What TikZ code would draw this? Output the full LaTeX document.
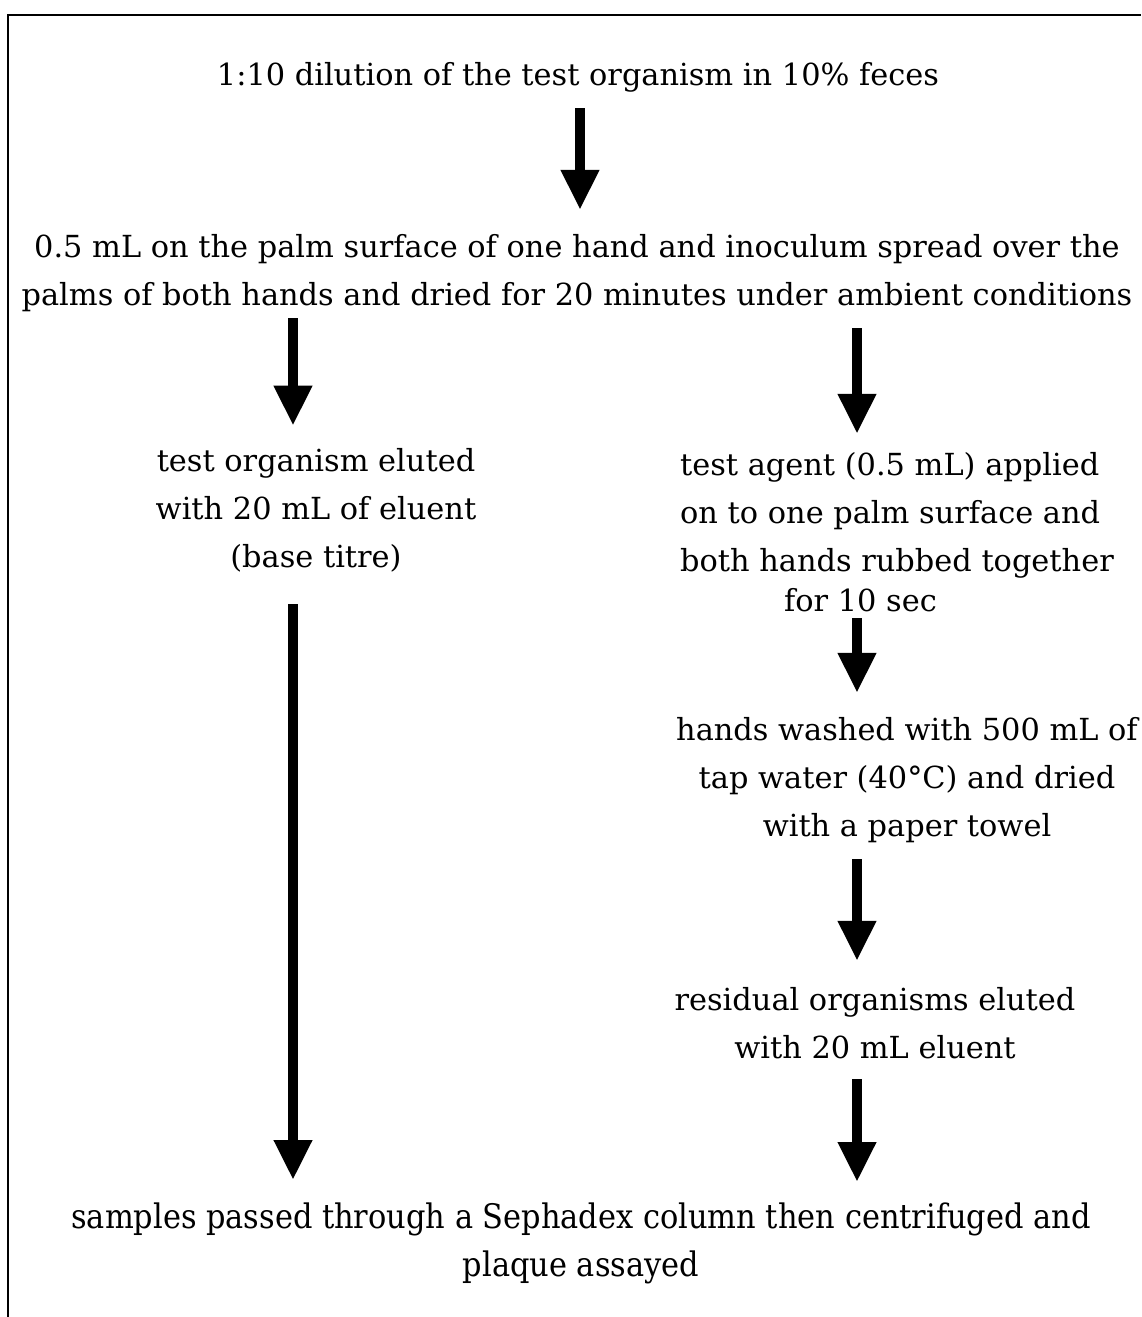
\documentclass[tikz,border=0pt]{standalone}
\usepackage{fontspec}
\setmainfont{DejaVu Serif}
\newfontfamily\condfont{DejaVu Serif Condensed}
\usetikzlibrary{arrows.meta}
\tikzset{
  steptext/.style={inner sep=0pt, align=center, font=\fontsize{15.2}{24}\selectfont},
  bigarrow/.style={line width=5pt, -{Triangle[width=18pt,length=20pt]}}
}
\begin{document}
\begin{tikzpicture}[x=0.5pt,y=-0.5pt]
  \useasboundingbox (0,0) rectangle (1141,1317);
  % frame
  \draw [line width=1pt] (8,1317) -- (8,15) -- (1141,15);
  \coordinate (lcol) at (293,0);
  \coordinate (rcol) at (857,0);
  \node [steptext] (dil) at (578,77) {1:10 dilution of the test organism in 10\% feces};
  \node [steptext] (palm) at (577,273) {0.5 mL on the palm surface of one hand and inoculum spread over the\\
    palms of both hands and dried for 20 minutes under ambient conditions};
  \node [steptext] (elu) at (316,510) {test organism eluted\\ with 20 mL of eluent\\ (base titre)};
  \node [steptext, align=left] (agent) at (897,532) {test agent (0.5 mL) applied\\ on to one palm surface and\\
    both hands rubbed together\\[-4pt] \hspace*{52pt}for 10 sec};
  \node [steptext] (wash) at (907,780) {hands washed with 500 mL of\\ tap water (40°C) and dried\\ with a paper towel};
  \node [steptext] (resid) at (875,1023) {residual organisms eluted\\ with 20 mL eluent};
  \node [steptext, font=\condfont\fontsize{16.9}{24}\selectfont] (samp) at (581,1243)
    {samples passed through a Sephadex column then centrifuged and\\ plaque assayed};
  % arrows
  \draw [bigarrow, shorten <=8pt, shorten >=12pt] (dil.south -| 580,0) -- (palm.north -| 580,0);
  \draw [bigarrow, shorten <=3pt, shorten >=11pt] (palm.south -| lcol) -- (elu.north -| lcol);
  \draw [bigarrow, shorten <=8pt, shorten >=9pt] (palm.south -| rcol) -- (agent.north -| rcol);
  \draw [bigarrow, shorten <=16pt, shorten >=11pt] (elu.south -| lcol) -- (samp.north -| lcol);
  \draw [bigarrow, shorten <=3pt, shorten >=12pt] (agent.south -| rcol) -- (wash.north -| rcol);
  \draw [bigarrow, shorten <=8pt, shorten >=13pt] (wash.south -| rcol) -- (resid.north -| rcol);
  \draw [bigarrow, shorten <=10pt, shorten >=10pt] (resid.south -| rcol) -- (samp.north -| rcol);
\end{tikzpicture}
\end{document}
